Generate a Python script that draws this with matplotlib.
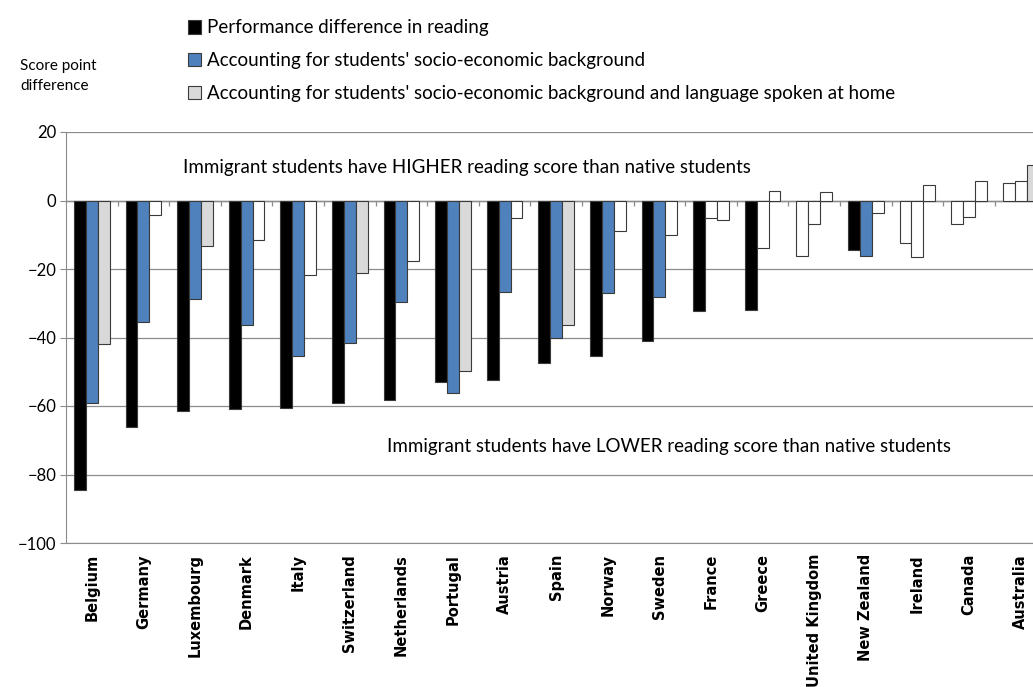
import matplotlib
matplotlib.use("Agg")
import matplotlib.pyplot as plt
from matplotlib.patches import Patch
import numpy as np

countries = ["Belgium", "Germany", "Luxembourg", "Denmark", "Italy", "Switzerland",
             "Netherlands", "Portugal", "Austria", "Spain", "Norway", "Sweden",
             "France", "Greece", "United Kingdom", "New Zealand", "Ireland",
             "Canada", "Australia"]

# performance difference in reading
perf = [-84.5, -66.0, -61.5, -61.0, -60.5, -59.2, -58.3, -52.9, -52.5, -47.5,
        -45.5, -40.9, -32.3, -32.0, -16.3, -14.5, -12.5, -7.0, 5.1]
perf_sig = [1, 1, 1, 1, 1, 1, 1, 1, 1, 1, 1, 1, 1, 1, 0, 1, 0, 0, 0]

# accounting for socio-economic background
ses = [-59.1, -35.5, -28.9, -36.3, -45.5, -41.5, -29.6, -56.3, -26.7, -40.1,
       -27.1, -28.3, -5.2, -13.9, -6.8, -16.3, -16.6, -4.8, 5.7]
ses_sig = [1, 1, 1, 1, 1, 1, 1, 1, 1, 1, 1, 1, 0, 0, 0, 1, 0, 0, 0]

# accounting for socio-economic background and language
lang = [-42.0, -4.1, -13.3, -11.5, -21.8, -21.3, -17.8, -49.9, -5.1, -36.3,
        -8.9, -10.2, -5.7, 2.9, 2.5, -3.6, 4.4, 5.7, 10.4]
lang_sig = [1, 0, 1, 0, 0, 1, 0, 1, 0, 1, 0, 0, 0, 0, 0, 0, 0, 0, 1]

labels = ["Performance difference in reading",
          "Accounting for students' socio-economic background",
          "Accounting for students' socio-economic background and language spoken at home"]
colors = ["#000000", "#4F81BD", "#D9D9D9"]

txt_font = ["Lato", "DejaVu Sans"]

fig = plt.figure(figsize=(10.33, 6.87), dpi=100)
ax = fig.add_axes([66 / 1033, 1 - 543 / 687, (1033 - 66) / 1033, (543 - 132) / 687])

x = np.arange(len(countries))
w = 0.23
for i, (vals, sig, col) in enumerate(zip([perf, ses, lang], [perf_sig, ses_sig, lang_sig], colors)):
    fc = [col if s else "white" for s in sig]
    ax.bar(x + (i - 1) * w, vals, w, color=fc, edgecolor="#3a3a3a", linewidth=0.8, zorder=3)

ax.set_ylim(-100, 20)
ax.set_xlim(-0.5, (1033 - 66) / 51.6 - 0.5)
ax.set_yticks(np.arange(-100, 21, 20))
ax.yaxis.grid(True, color="#8c8c8c", linewidth=0.9, zorder=0)
ax.axhline(0, color="#8c8c8c", linewidth=1.0, zorder=2)
# small tick marks on the zero line between groups
ax.vlines(np.arange(len(countries)) + 0.5, -1.6, 0, color="#8c8c8c", linewidth=0.9, zorder=2)

for s in ["top", "right"]:
    ax.spines[s].set_visible(False)
ax.spines["left"].set_color("#8c8c8c")
ax.spines["bottom"].set_color("#8c8c8c")

ax.set_xticks(x)
ax.set_xticklabels(countries, rotation=90, fontsize=10.5, fontweight="bold",
                   family="DejaVu Sans", va="top")
ax.tick_params(axis="x", length=0, pad=8)
ax.tick_params(axis="y", length=4, color="#8c8c8c", labelsize=12, pad=3)
for t in ax.get_yticklabels():
    t.set_family(txt_font)

ax.text(1.77, 9.6, "Immigrant students have HIGHER reading score than native students",
        fontsize=13.5, family=txt_font, va="center", ha="left")
ax.text(5.72, -71.8, "Immigrant students have LOWER reading score than native students",
        fontsize=13.5, family=txt_font, va="center", ha="left")

fig.text(20 / 1033, 1 - 76 / 687, "Score point\ndifference", fontsize=11,
         family=txt_font, va="center", ha="left", linespacing=1.55)

handles = [Patch(facecolor=c, edgecolor="#3a3a3a", linewidth=0.8) for c in colors]
fig.legend(handles, labels, loc="upper left", bbox_to_anchor=(180 / 1033, 1 - 12 / 687),
           frameon=False, prop={"family": txt_font, "size": 13.5}, handlelength=0.7,
           handleheight=0.7, handletextpad=0.35, labelspacing=0.85, borderaxespad=0)

fig.savefig("out.png", dpi=100)
